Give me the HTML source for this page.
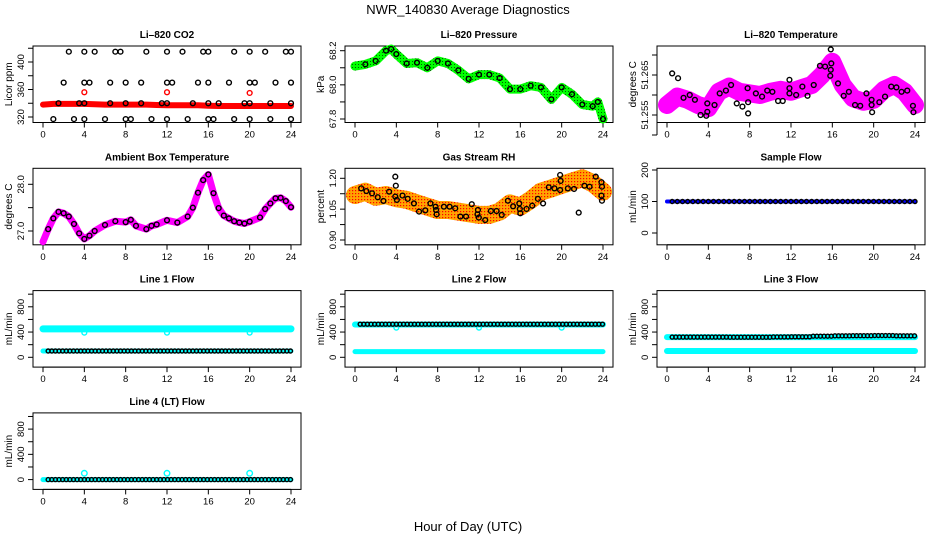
<!DOCTYPE html>
<html><head><meta charset="utf-8"><style>
html,body{margin:0;padding:0;background:#fff}
svg{display:block;font-family:"Liberation Sans",Arial,sans-serif}
</style></head><body>
<svg id="chart" width="936" height="540" viewBox="0 0 936 540" xmlns="http://www.w3.org/2000/svg">
<defs>
<pattern id="rhpat" width="3" height="3" patternUnits="userSpaceOnUse"><rect width="3" height="3" fill="#ffa500"/><rect x="1" y="1" width="1.2" height="1.2" fill="#ff0000"/></pattern>
<pattern id="prpat" width="3" height="3" patternUnits="userSpaceOnUse"><rect width="3" height="3" fill="#00ff00"/><rect x="1" y="1" width="1" height="1" fill="#006000"/></pattern>
</defs>
<text x="468" y="14" font-size="13" text-anchor="middle">NWR_140830  Average Diagnostics</text>
<text x="468" y="531" font-size="13" text-anchor="middle">Hour of Day (UTC)</text>
</svg>
<script>
// ---- data ----
const hourTicks=[0,4,8,12,16,20,24];
const co2BandX=[0,1,2,3,4,5,6,7,8,9,10,11,12,13,14,15,16,17,18,19,20,21,22,23,24];
const co2BandY=[338,339,339,339,339,338.5,338,338,338,338,338,337.5,337,337,337,337,336.5,336,336,336,336,336,336,336,336];
const co2RedX=[4,12,20];
const co2RedY=[356,356,355];
const co2BlackX=[2.5,4,5,7,7.5,10,12,13.5,15.5,16,18.5,20,21.5,23.5,24, 2,4,4.5,6.5,8,9.5,12,12.5,15,16,18,20,20.5,22.5,24, 1.5,3.5,4,6.5,8,9.5,11.5,12,14.5,16,17,19.5,20,22,24, 1,3,4,6,8,8.5,10.5,12,14,16,16.5,18.5,20,22,24];
const co2BlackY=[415,415,415,415,415,415,415,415,415,415,415,415,415,415,415, 370,370,370,370,370,370,370,370,370,370,370,370,370,370,370, 340,340,340,340,340,340,340,340,340,340,340,340,340,340,340, 317,317,317,317,317,317,317,317,317,317,317,317,317,317,317];
const presX=[0,1,2,3,3.5,4,5,6,7,8,9,10,11,12,13,14,15,16,17,18,19,20,21,22,23,23.5,24];
const presY=[68.11,68.12,68.14,68.2,68.21,68.18,68.125,68.13,68.1,68.14,68.125,68.085,68.035,68.06,68.06,68.04,67.975,67.975,67.995,67.985,67.915,67.985,67.945,67.885,67.875,67.9,67.8];
const tempX=[0,1,2,3,4,5,6,7,8,9,10,11,12,13,14,15,16,17,18,19,20,21,22,23,24];
const tempY=[51.2575,51.2596,51.2588,51.2575,51.2567,51.2608,51.2621,51.2608,51.2604,51.26,51.2608,51.2613,51.2608,51.2617,51.2625,51.265,51.2683,51.2625,51.2592,51.2583,51.2588,51.2613,51.2625,51.2608,51.2575];
const tempBlackX=[0.5,1.07,1.6,2.2,2.7,3.25,3.8,3.9,3.9,4.6,5.1,5.7,6.2,6.75,7.3,7.8,7.85,7.85,8.6,9.2,9.7,10.2,10.75,11.2,11.85,11.85,11.85,12.5,13.1,13.6,14.2,14.8,15.3,15.85,15.9,15.85,15.8,16.55,17.1,17.6,18.2,18.7,19.3,19.8,19.8,19.85,20.55,21.1,21.7,22.2,22.7,23.25,23.8,23.85];
const tempBlackY=[51.2654,51.2642,51.2593,51.26,51.2588,51.255,51.2548,51.2579,51.2558,51.2575,51.2604,51.2611,51.2625,51.2579,51.2571,51.2617,51.2582,51.2554,51.2604,51.2596,51.2611,51.2608,51.2585,51.2585,51.2638,51.2617,51.2604,51.26,51.2621,51.2598,51.2625,51.2673,51.2671,51.2714,51.2679,51.2663,51.2648,51.2629,51.2598,51.2608,51.2575,51.2573,51.2604,51.2588,51.2575,51.2557,51.2582,51.2596,51.2621,51.2619,51.2608,51.2611,51.2573,51.2557];
const ambX=[0,0.5,1,1.5,2,2.5,3,3.5,4,4.5,5,6,7,8,8.5,9,10,10.5,11,12,13,14,14.5,15,15.5,16,16.5,17,17.5,18,18.5,19,19.5,20,21,21.5,22,22.5,23,23.5,24];
const ambY=[26.77,27.04,27.27,27.41,27.38,27.31,27.15,26.95,26.83,26.9,27.0,27.13,27.21,27.19,27.24,27.11,27.04,27.11,27.14,27.23,27.18,27.31,27.5,27.82,28.09,28.21,27.81,27.49,27.33,27.27,27.21,27.18,27.16,27.2,27.29,27.47,27.59,27.7,27.71,27.64,27.51];
const rhX=[0,1,2,3,4,5,6,7,8,9,10,11,12,13,14,15,16,17,18,19,20,21,22,23,24];
const rhY=[1.119,1.135,1.11,1.119,1.103,1.095,1.078,1.062,1.046,1.046,1.038,1.03,1.022,1.022,1.038,1.078,1.062,1.095,1.135,1.151,1.168,1.184,1.2,1.176,1.135];
const rhBlackX=[0.6,1.1,1.65,2.2,2.75,3.3,3.9,3.95,3.9,4.05,4.6,5.1,5.7,6.2,6.8,7.3,7.8,7.85,7.9,8.6,9.15,9.7,10.2,10.75,11.3,11.85,11.9,11.98,12.6,13.15,13.7,14.2,14.8,15.3,15.9,15.95,16,16.6,17.15,17.7,18.2,18.75,19.3,19.85,19.9,19.85,20.6,21.2,21.65,22.2,22.7,23.3,23.85,23.9,23.85,23.9];
const rhBlackY=[1.151,1.138,1.127,1.108,1.09,1.135,1.208,1.164,1.111,1.095,1.116,1.1,1.078,1.038,1.044,1.078,1.062,1.046,1.025,1.062,1.062,1.054,1.014,1.014,1.074,1.025,1.046,1.009,0.997,1.041,1.041,1.022,1.091,1.064,1.078,1.051,1.03,1.051,1.067,1.1,1.078,1.156,1.151,1.216,1.187,1.143,1.151,1.148,1.033,1.164,1.159,1.208,1.181,1.159,1.116,1.091];
const sampleFlow=100;
const line1High=450, line1Low=100, line1Black=100, line1Dip=390;
const line2High=520, line2Low=90, line2Black=525, line2Dip=470;
const line3High=320, line3Low=100, line3Black=[320,320,320,318,318,322,325,335,340,342,345,340];
const line4Base=0, line4Spike=100;
const dipHours=[4,12,20];

// ---- drawing ----
const svg=document.getElementById('chart');
const NS='http://www.w3.org/2000/svg';
function mk(tag,attrs,parent){const e=document.createElementNS(NS,tag);for(const k in attrs)e.setAttribute(k,attrs[k]);(parent||svg).appendChild(e);return e;}
function panel(name,col,row,title,ylab,v0,p0,v1,p1,ticks,labels){
  const L=33+312*col,T=46+122.3*row,W=268,H=76.5;
  const g=mk('g',{});
  
  
  const xs=h=>L+10+h*248/24;
  const ys=v=>T+p0+(v-v0)*(p1-p0)/(v1-v0);
  const box=mk('rect',{x:L,y:T,width:W,height:H,fill:'none',stroke:'#000','stroke-width':1},g);
  
  
  const t=mk('text',{x:L+W/2,y:T-8,'font-size':10,'font-weight':'bold','text-anchor':'middle'},g);t.textContent=title;
  
  
  const yl=mk('text',{transform:`translate(${L-21},${T+H/2}) rotate(-90)`,'font-size':10,'text-anchor':'middle'},g);yl.textContent=ylab;
  
  
  const B=T+H;
  mk('line',{x1:xs(0),x2:xs(24),y1:B,y2:B,stroke:'#000'},g);
  hourTicks.forEach(h=>{mk('line',{x1:xs(h),x2:xs(h),y1:B,y2:B+5,stroke:'#000'},g);
    const tx=mk('text',{x:xs(h),y:B+15,'font-size':9.5,'text-anchor':'middle'},g);tx.textContent=h;
    
    });
  mk('line',{x1:L,x2:L,y1:ys(ticks[0]),y2:ys(ticks[ticks.length-1]),stroke:'#000'},g);
  ticks.forEach((v,i)=>{mk('line',{x1:L-5,x2:L,y1:ys(v),y2:ys(v),stroke:'#000'},g);
    if(labels[i]!==''){const ty=mk('text',{transform:`translate(${L-9},${ys(v)}) rotate(-90)`,'font-size':9.5,'text-anchor':'middle'},g);ty.textContent=labels[i];
    
    }});
  return {g,xs,ys};
}
function band(p,X,Y,color,w,name){const d=X.map((x,i)=>(i?'L':'M')+p.xs(x).toFixed(1)+','+p.ys(Y[i]).toFixed(1)).join('');
  const e=mk('path',{d,fill:'none',stroke:color,'stroke-width':w,'stroke-linejoin':'round','stroke-linecap':'round'},p.g);
  
  return e;}
function pts(p,X,Y,color,name,r){X.forEach((x,i)=>{const c=mk('circle',{cx:p.xs(x),cy:p.ys(Y[i]),r:r||2.4,fill:'none',stroke:color,'stroke-width':1.4},p.g);
  
  });}
function seq(a,b,s){const r=[];for(let x=a;x<=b+1e-9;x+=s)r.push(+x.toFixed(3));return r;}
function flat(p,v,color,w,name){band(p,[0,24],[v,v],color,w,name);}

// Li-820 CO2
let p=panel('co2-panel',0,0,'Li\u2013820 CO2','Licor ppm',320,71,400,16,[320,340,360,380,400,420],['320','','360','','400','']);
band(p,co2BandX,co2BandY,'#ff0000',6,'co2-red-band');
pts(p,co2RedX,co2RedY,'#ff0000','co2-red-point');
pts(p,co2BlackX,co2BlackY,'#000','co2-black-point');
// Pressure
p=panel('pressure-panel',1,0,'Li\u2013820 Pressure','kPa',68.2,4.7,67.8,73,[67.8,67.9,68.0,68.1,68.2],['67.8','','68.0','','68.2']);
band(p,presX,presY,'url(#prpat)',9,'pressure-green-band');
pts(p,presX.slice(1),presY.slice(1),'#000','pressure-black-point');
// Temperature
p=panel('temperature-panel',2,0,'Li\u2013820 Temperature','degrees C',51.255,69,51.265,29,[51.25,51.255,51.26,51.265,51.27],['','51.255','','51.265','']);
band(p,tempX,tempY,'#ff00ff',18,'temperature-magenta-band');
pts(p,tempBlackX,tempBlackY,'#000','temperature-black-point');
// Ambient
p=panel('ambient-panel',0,1,'Ambient Box Temperature','degrees C',28.0,16,27.0,62.7,[27.0,27.5,28.0],['27.0','','28.0']);
band(p,ambX,ambY,'#ff00ff',7,'ambient-magenta-band');
pts(p,ambX.slice(1),ambY.slice(1),'#000','ambient-black-point');
// RH
p=panel('rh-panel',1,1,'Gas Stream RH','percent',1.20,10,0.90,71.7,[0.90,0.975,1.05,1.125,1.20],['0.90','','1.05','','1.20']);
band(p,rhX,rhY,'url(#rhpat)',18,'rh-orange-band');
pts(p,rhBlackX,rhBlackY,'#000','rh-black-point');
// Sample flow
p=panel('sample-flow-panel',2,1,'Sample Flow','mL/min',0,64.7,200,1.7,[0,100,200],['0','100','200']);
flat(p,sampleFlow,'#0000ff',4,'sample-flow-blue');
let hx=seq(0.5,24,0.5);
pts(p,hx,hx.map(()=>sampleFlow),'#000','sample-flow-black-point',2);
const flowTicks=[0,200,400,600,800,1000],flowLabels=['0','','400','','800',''];
// Line 1
p=panel('line1-flow-panel',0,2,'Line 1 Flow','mL/min',0,66.7,800,16.2,flowTicks,flowLabels);
flat(p,line1High,'#00ffff',7,'line1-cyan-high');
flat(p,line1Low,'#00ffff',5,'line1-cyan-low');
pts(p,dipHours,dipHours.map(()=>line1Dip),'#00ffff','line1-cyan-dip');
hx=seq(0.5,24,0.35);
pts(p,hx,hx.map(()=>line1Black),'#000','line1-black-point',2);
// Line 2
p=panel('line2-flow-panel',1,2,'Line 2 Flow','mL/min',0,66.7,800,16.2,flowTicks,flowLabels);
flat(p,line2High,'#00ffff',6,'line2-cyan-high');
flat(p,line2Low,'#00ffff',5,'line2-cyan-low');
pts(p,dipHours,dipHours.map(()=>line2Dip),'#00ffff','line2-cyan-dip');
pts(p,hx,hx.map(()=>line2Black),'#000','line2-black-point',2);
// Line 3
p=panel('line3-flow-panel',2,2,'Line 3 Flow','mL/min',0,66.7,800,16.2,flowTicks,flowLabels);
flat(p,line3High,'#00ffff',6,'line3-cyan-high');
flat(p,line3Low,'#00ffff',6,'line3-cyan-low');
pts(p,hx,hx.map(h=>line3Black[Math.min(11,Math.floor(h/2))]),'#000','line3-black-point',2);
// Line 4
p=panel('line4-flow-panel',0,3,'Line 4 (LT) Flow','mL/min',0,66.7,800,16.2,flowTicks,flowLabels);
flat(p,line4Base,'#00ffff',5,'line4-cyan-base');
pts(p,dipHours,dipHours.map(()=>line4Spike),'#00ffff','line4-cyan-spike',2.8);
pts(p,hx,hx.map(()=>line4Base),'#000','line4-black-point',2);
</script>
</body></html>
